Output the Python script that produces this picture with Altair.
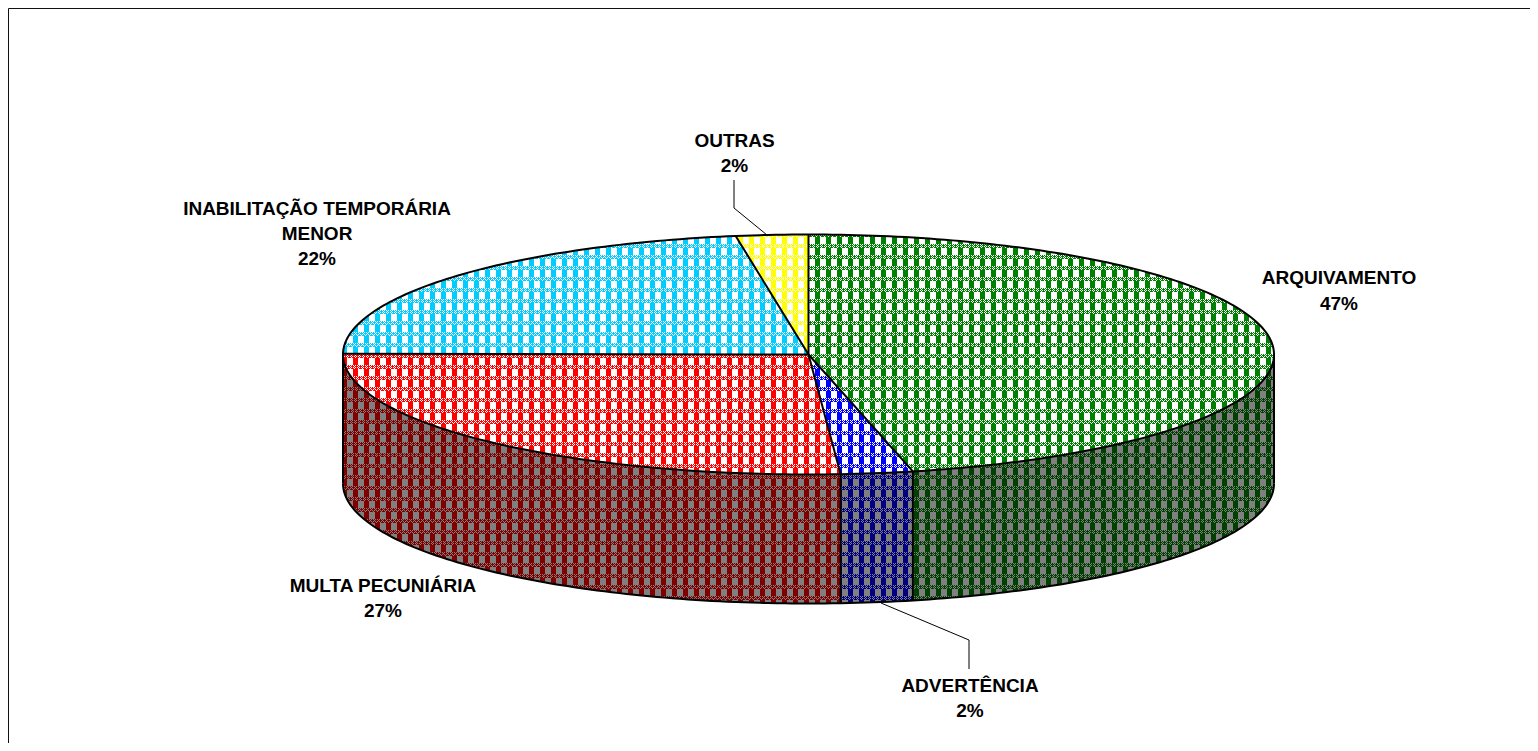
import math
import numpy as np
import pandas as pd
import altair as alt

alt.data_transformers.disable_max_rows()

categories = ["ARQUIVAMENTO", "ADVERTÊNCIA", "MULTA PECUNIÁRIA", "INABILITAÇÃO TEMPORÁRIA MENOR", "OUTRAS"]
shares = [46.4, 2.5, 26.2, 22.4, 2.5]
top_colors = ["#008000", "#0000FF", "#FF0000", "#00CCFF", "#FFFF00"]
wall_colors = ["#004000", "#000080", "#800000", "#006680", "#808000"]

label_lines = ["OUTRAS", "2%", "INABILITAÇÃO TEMPORÁRIA", "MENOR", "22%", "ARQUIVAMENTO", "47%",
               "MULTA PECUNIÁRIA", "27%", "ADVERTÊNCIA", "2%"]
label_x = [734.5, 734.5, 317, 317, 317, 1339, 1339, 383, 383, 970, 970]
label_y = [140.5, 165.5, 208.5, 233.5, 258.5, 278, 304, 586, 611, 686, 711]

leader_group = ["o", "o", "o", "a", "a", "a"]
leader_x = [734, 734, 767, 881, 969, 969]
leader_y = [180, 208, 235, 603, 640, 669]

CX, CY, RX, RY, DEPTH = 808.5, 354.5, 465.5, 120.0, 129.0
PX0, PX1, PY0, PY1 = 8, 1530, 8, 743
PERIOD, LIGHT_W, BAND_H = 11, 6, 4
PHASE_X, PHASE_Y = 754, 244

cum = np.cumsum([0] + shares) / sum(shares) * 2 * np.pi


def slice_of(angle):
    return np.clip(np.searchsorted(cum, angle, side="right") - 1, 0, len(shares) - 1)


def point(angle, down=0.0):
    return CX + RX * math.sin(angle), CY - RY * math.cos(angle) + down


# Split the pie into pixel rows, each run belonging to one slice
xs = np.arange(int(CX - RX) - 1, int(CX + RX) + 2)
ys = np.arange(int(CY - RY) - 1, int(CY + RY + DEPTH) + 2)
base, head, dash, dither, dither_sparse = [], [], [], [], []
for y in ys:
    u = (xs + 0.5 - CX) / RX
    v = (y + 0.5 - CY) / RY
    inside = np.abs(u) <= 1
    label = np.full(xs.shape, -1)
    wall = np.zeros(xs.shape, dtype=bool)
    root = np.sqrt(np.clip(1 - u * u, 0, 1))
    is_top = inside & (np.abs(v) <= root)
    label[is_top] = slice_of(np.mod(np.arctan2(u, -v), 2 * np.pi))[is_top]
    low = CY + RY * root
    is_wall = inside & ~is_top & (y + 0.5 > low) & (y + 0.5 <= low + DEPTH)
    wall_angle = np.mod(np.arctan2(u, -root), 2 * np.pi)
    label[is_wall] = slice_of(wall_angle)[is_wall]
    wall[is_wall] = True
    key = label * 2 + wall
    starts = np.flatnonzero(np.diff(np.r_[-99, key, -99]))
    for a, b in zip(starts[:-1], starts[1:]):
        if label[a] < 0:
            continue
        x0, x1 = int(xs[a]), int(xs[b - 1]) + 1
        s = int(label[a])
        col = wall_colors[s] if wall[a] else top_colors[s]
        lt = "#808080" if wall[a] else "#FFFFFF"
        row = {"y": int(y) + 0.5}
        base.append({**row, "x": x0, "x2": x1, "c": col})
        band_row = (int(y) - PHASE_Y) % PERIOD
        if band_row < BAND_H:
            st = x0 if (x0 + int(y)) % 2 == 0 else x0 + 1
            if st < x1:
                (dither if band_row % 2 == 0 else dither_sparse).append({**row, "x": st, "x2": x1, "c": lt})
        else:
            off = (x0 - PHASE_X) % PERIOD
            if off < LIGHT_W:
                head.append({**row, "x": x0, "x2": min(x1, x0 + LIGHT_W - off), "c": lt})
            st = x0 + (PERIOD - off) % PERIOD
            if st < x1:
                dash.append({**row, "x": st, "x2": x1, "c": lt})

# Outlines
lines = []


def add_line(name, pts):
    for i, (x, y) in enumerate(pts):
        lines.append({"g": name, "i": i, "x": x, "y": y})


angles = np.linspace(0, 2 * np.pi, 361)
add_line("rim", [point(a) for a in angles])
front = np.linspace(np.pi / 2, 3 * np.pi / 2, 181)
add_line("bottom", [point(a, DEPTH) for a in front])
add_line("left", [point(3 * np.pi / 2), point(3 * np.pi / 2, DEPTH)])
add_line("right", [point(np.pi / 2), point(np.pi / 2, DEPTH)])
for k, a in enumerate(cum[:-1]):
    add_line(f"r{k}", [(CX, CY), point(a)])
    if np.pi / 2 < a < 3 * np.pi / 2:
        add_line(f"w{k}", [point(a), point(a, DEPTH)])

x_s = alt.Scale(domain=[PX0, PX1], range=[0, PX1 - PX0], nice=False, zero=False)
y_s = alt.Scale(domain=[PY1, PY0], range=[PY1 - PY0, 0], nice=False, zero=False)
X = alt.X("x:Q", scale=x_s, axis=None)
X2 = alt.X2("x2:Q")
Y = alt.Y("y:Q", scale=y_s, axis=None)
C = alt.Color("c:N", scale=None, legend=None)


def rows(data, **kw):
    return alt.Chart(pd.DataFrame(data)).mark_rule(strokeWidth=1, **kw).encode(x=X, x2=X2, y=Y, color=C)


frame = pd.DataFrame({"x": [PX0 + 0.5, PX0 + 0.5, PX1], "y": [PY1, PY0 + 0.5, PY0 + 0.5], "i": [0, 1, 2]})
frame_l = alt.Chart(frame).mark_line(color="#111111", strokeWidth=1).encode(x=X, y=Y, order="i:Q")

outl = alt.Chart(pd.DataFrame(lines)).mark_line(color="#000000", strokeWidth=2).encode(
    x=X, y=Y, detail="g:N", order="i:Q")
leaders = alt.Chart(pd.DataFrame({"g": leader_group, "x": leader_x, "y": leader_y, "i": range(6)})).mark_line(
    color="#000000", strokeWidth=1).encode(x=X, y=Y, detail="g:N", order="i:Q")
texts = alt.Chart(pd.DataFrame({"t": label_lines, "x": label_x, "y": label_y})).mark_text(
    font="Liberation Sans", fontWeight="bold", fontSize=19, color="#000000", align="center", baseline="middle"
).encode(x=X, y=Y, text="t:N")

chart = alt.layer(
    frame_l,
    rows(base),
    rows(head),
    rows(dash, strokeDash=[LIGHT_W, PERIOD - LIGHT_W]),
    rows(dither, strokeDash=[1, 1]),
    rows(dither_sparse, strokeDash=[1, 3]),
    outl, leaders, texts,
).properties(width=PX1 - PX0, height=PY1 - PY0, padding=0, autosize=alt.AutoSizeParams(type="none"),
             background="#FFFFFF").configure_view(stroke=None)

chart.save("out.html", embed_options={"renderer": "svg", "actions": False})
